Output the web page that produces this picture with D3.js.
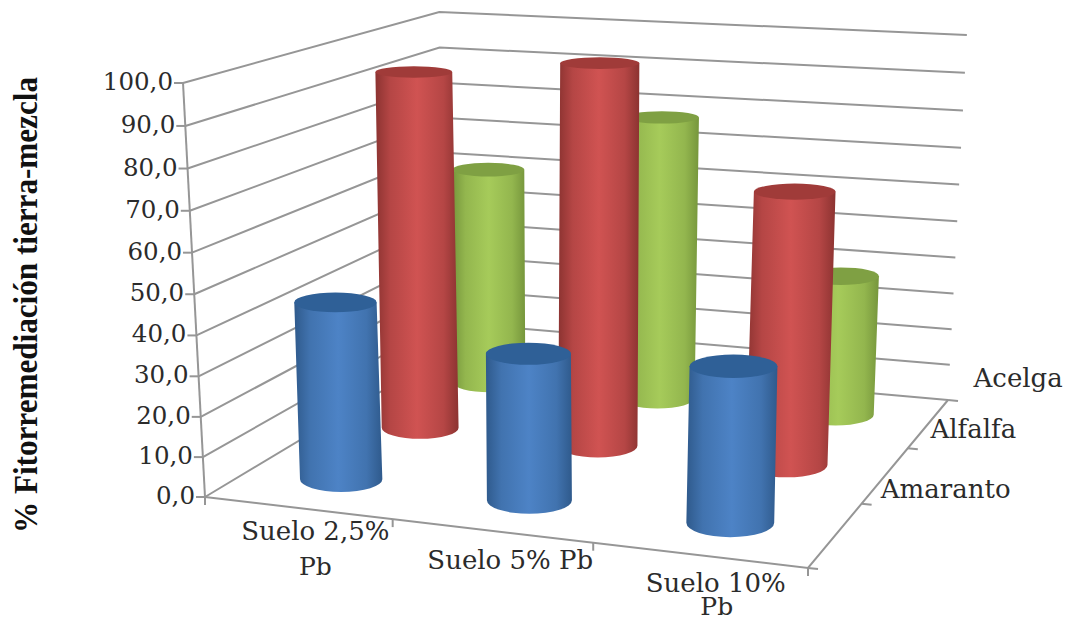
<!DOCTYPE html>
<html>
<head>
<meta charset="utf-8">
<script src="https://cdnjs.cloudflare.com/ajax/libs/d3/7.8.5/d3.min.js"></script>
<style>
  html, body { margin: 0; padding: 0; background: #fff; }
  svg { display: block; }
</style>
</head>
<body>
<svg id="chart" width="1067" height="621"></svg>
<script>
// Chart data
const categories = ["Suelo 2,5% Pb", "Suelo 5% Pb", "Suelo 10% Pb"];
const seriesNames = ["Amaranto", "Alfalfa", "Acelga"];
const amaranto = [44.6, 36.0, 37.2];
const alfalfa = [94.0, 98.4, 69.2];
const acelga = [60.7, 77.8, 38.1];
const yMax = 100;

const seriesValues = [amaranto, alfalfa, acelga];
const seriesPalette = [
  { edge: "#2f5a8c", mid: "#4d83c6", cap: "#2f6097" },
  { edge: "#8c3331", mid: "#d05352", cap: "#a03b39" },
  { edge: "#76963c", mid: "#a6cb5a", cap: "#7fa043" }
];

// Frame of the 3D box on screen: front-left, front-right, back-right, back-left
const floorQuad = [[205, 497], [808, 568], [948, 400], [442, 355]];
const ceilingQuad = [[183, 83], [822, 110], [966, 35], [438, 12]];
// Point where the box's upright edges would meet far below the floor
const uprightVanishing = [588, 7707];
const depthLean = 0.012;

// Unit square to quadrilateral projective mapping
function quadProjection([p00, p10, p11, p01]) {
  const dx1 = p10[0] - p11[0], dx2 = p01[0] - p11[0], sx = p00[0] - p10[0] + p11[0] - p01[0];
  const dy1 = p10[1] - p11[1], dy2 = p01[1] - p11[1], sy = p00[1] - p10[1] + p11[1] - p01[1];
  const den = dx1 * dy2 - dx2 * dy1;
  const g = (sx * dy2 - dx2 * sy) / den;
  const h = (dx1 * sy - sx * dy1) / den;
  const a = p10[0] - p00[0] + g * p10[0], b = p01[0] - p00[0] + h * p01[0];
  const d = p10[1] - p00[1] + g * p10[1], e = p01[1] - p00[1] + h * p01[1];
  const fn = (u, v) => {
    const w = g * u + h * v + 1;
    return [(a * u + b * v + p00[0]) / w, (d * u + e * v + p00[1]) / w];
  };
  fn.depth = (u, v) => g * u + h * v + 1;
  return fn;
}

const floorAt = quadProjection(floorQuad);
const ceilingAt = quadProjection(ceilingQuad);

// Scales for the three chart dimensions
const uScale = d3.scaleBand().domain(categories).range([0, 1]);
const vScale = d3.scaleBand().domain(seriesNames).range([0, 1]);
const yScale = d3.scaleLinear().domain([0, yMax]).range([0, 1]);
const yForeshorten = t => t * 0.96 / (1 - 0.04 * t);

// Height comes from the floor and ceiling planes; x follows the leaning upright
function project(u, v, value) {
  const f = yForeshorten(yScale(value));
  const p = floorAt(u, v), q = ceilingAt(u, v);
  const y = p[1] + (q[1] - p[1]) * f;
  const lean = (uprightVanishing[0] - p[0]) / (uprightVanishing[1] - p[1]) - depthLean * v * (1 - 0.8 * u);
  return [p[0] + lean * (y - p[1]), y];
}

const svg = d3.select("#chart");
const gridColor = "#969696";
const textColor = "#2b2b2b";
const decimalComma = d3.formatLocale({ decimal: ",", thousands: ".", grouping: [3], currency: ["", ""] }).format(".1f");
const line = d3.line();

// Walls: value gridlines across the left and back walls
const yTicks = yScale.ticks(10);
const grid = svg.append("g").attr("fill", "none").attr("stroke", gridColor).attr("stroke-width", 2);
grid.selectAll("path.wall").data(yTicks).join("path").attr("class", "wall")
  .attr("d", t => line([project(0, 0, t), project(0, 1, t), project(1, 1, t)]));

// Value axis with its tick marks
grid.append("path").attr("d", line([project(0, 0, 0), project(0, 0, yMax)]));
grid.selectAll("path.ytick").data(yTicks).join("path").attr("class", "ytick")
  .attr("d", t => { const p = project(0, 0, t); return line([[p[0] - 9, p[1]], p]); });

// Floor edges with their tick marks
grid.append("path").attr("d", line([project(0, 0, 0), project(1, 0, 0), project(1, 1, 0)]));
grid.selectAll("path.xtick").data(d3.range(categories.length + 1)).join("path").attr("class", "xtick")
  .attr("d", i => { const p = project(i / categories.length, 0, 0); return line([p, [p[0], p[1] + 8]]); });
grid.selectAll("path.ztick").data(d3.range(seriesNames.length + 1)).join("path").attr("class", "ztick")
  .attr("d", i => { const p = project(1, i / seriesNames.length, 0); return line([p, [p[0] + 10, p[1] + 1]]); });

// Cylinder shading
const defs = svg.append("defs");
seriesPalette.forEach((c, i) => {
  const gr = defs.append("linearGradient").attr("id", "cyl" + i).attr("x1", 0).attr("x2", 1).attr("y1", 0).attr("y2", 0);
  [[0, c.edge], [0.18, d3.interpolateRgb(c.edge, c.mid)(0.6)], [0.5, c.mid], [0.82, d3.interpolateRgb(c.edge, c.mid)(0.6)], [1, c.edge]]
    .forEach(([o, col]) => gr.append("stop").attr("offset", o).attr("stop-color", col));
});

// Ellipse flatness grows towards the bottom of the picture
const flatness = d3.scaleLinear().domain([72, 479]).range([0.15, 0.31]);
const radiusAtUnitDepth = 42;

// Cylinders, painted from the back row to the front row
const bars = [];
seriesNames.forEach((s, j) => categories.forEach((c, i) => {
  bars.push({ s: j, c: i, value: seriesValues[j][i],
    u: uScale(c) + uScale.bandwidth() / 2, v: vScale(s) + vScale.bandwidth() / 2 });
}));
bars.sort((a, b) => d3.descending(a.s, b.s) || d3.ascending(a.c, b.c));

const barG = svg.append("g").selectAll("g").data(bars).join("g");
barG.append("path")
  .attr("fill", d => `url(#cyl${d.s})`)
  .attr("d", d => {
    const base = project(d.u, d.v, 0), top = project(d.u, d.v, d.value);
    const rx = radiusAtUnitDepth / floorAt.depth(d.u, d.v);
    const ry = rx * flatness(base[1]);
    return `M${top[0] - rx},${top[1]}L${base[0] - rx},${base[1]}A${rx},${ry} 0 0 0 ${base[0] + rx},${base[1]}L${top[0] + rx},${top[1]}Z`;
  });
barG.append("ellipse")
  .attr("fill", d => seriesPalette[d.s].cap)
  .attr("cx", d => project(d.u, d.v, d.value)[0])
  .attr("cy", d => project(d.u, d.v, d.value)[1])
  .attr("rx", d => radiusAtUnitDepth / floorAt.depth(d.u, d.v))
  .attr("ry", d => radiusAtUnitDepth / floorAt.depth(d.u, d.v) * flatness(project(d.u, d.v, d.value)[1]));

// Value labels
const serif = "'DejaVu Serif', 'Liberation Serif', serif";
svg.append("g").selectAll("text").data(yTicks).join("text")
  .attr("x", t => project(0, 0, t)[0] - 10)
  .attr("y", t => project(0, 0, t)[1] + 7)
  .attr("text-anchor", "end")
  .attr("font-family", serif).attr("font-size", 24.5).attr("fill", textColor)
  .text(t => decimalComma(t));

// Category labels, broken over lines below the front edge
const categoryLines = [["Suelo 2,5%", "Pb"], ["Suelo 5% Pb"], ["Suelo 10%", "Pb"]];
const categoryOffsets = [
  [{ dx: 18, dy: 32, size: 26 }, { dx: 18, dy: 67, size: 25 }],
  [{ dx: 19, dy: 38, size: 26 }],
  [{ dx: 17, dy: 37, size: 26 }, { dx: 18, dy: 60, size: 25 }]
];
categories.forEach((c, i) => {
  const a = project(uScale(c) + uScale.bandwidth() / 2, 0, 0);
  categoryLines[i].forEach((txt, k) => {
    svg.append("text")
      .attr("x", a[0] + categoryOffsets[i][k].dx)
      .attr("y", a[1] + categoryOffsets[i][k].dy)
      .attr("text-anchor", "middle")
      .attr("font-family", serif).attr("font-size", categoryOffsets[i][k].size).attr("fill", textColor)
      .text(txt);
  });
});

// Series labels beside the right floor edge
const seriesOffset = { dx: 45, dy: -36.5 };
seriesNames.forEach((s, j) => {
  const a = project(1, vScale(s) + vScale.bandwidth() / 2, 0);
  svg.append("text")
    .attr("x", a[0] + seriesOffset.dx)
    .attr("y", a[1] + seriesOffset.dy)
    .attr("font-family", serif).attr("font-size", 26).attr("fill", textColor)
    .text(s);
});

// Axis title
svg.append("text")
  .attr("transform", "translate(37,305) rotate(-90)")
  .attr("text-anchor", "middle")
  .attr("font-family", "'Liberation Serif', serif").attr("font-weight", "bold")
  .attr("font-size", 34).attr("fill", "#111")
  .attr("textLength", 456).attr("lengthAdjust", "spacingAndGlyphs")
  .text("% Fitorremediación tierra-mezcla");
</script>
</body>
</html>
